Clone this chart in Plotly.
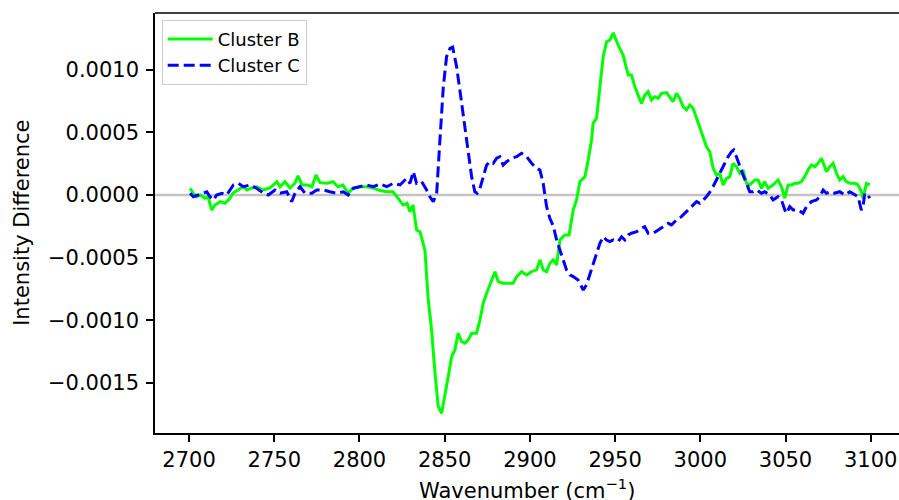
import plotly.graph_objects as go

# Difference spectra (cluster minus reference) in the C-H stretching region
wavenumber_b = [
    2700.6, 2702.5, 2704.5, 2706.5, 2709.4, 2711.1, 2713.3, 2715.2, 2718.2, 2721.1,
    2724.0, 2725.8, 2728.7, 2731.7, 2734.0, 2736.9, 2739.9, 2743.4, 2747.5, 2751.6,
    2753.4, 2756.3, 2759.2, 2762.2, 2763.9, 2766.3, 2769.2, 2772.1, 2774.5, 2776.8,
    2780.9, 2784.5, 2787.4, 2790.3, 2793.3, 2796.2, 2800.3, 2804.4, 2807.9, 2812.0,
    2816.1, 2819.6, 2822.0, 2825.5, 2827.9, 2829.6, 2831.4, 2833.5, 2835.5, 2838.4,
    2840.2, 2842.3, 2844.3, 2846.2, 2848.2, 2850.1, 2852.1, 2854.1, 2856.0, 2857.9,
    2859.9, 2861.9, 2863.8, 2865.8, 2868.7, 2870.7, 2872.6, 2874.6, 2876.5, 2879.5,
    2881.4, 2884.3, 2887.3, 2890.2, 2892.2, 2895.1, 2898.1, 2901.0, 2903.9, 2905.9,
    2907.8, 2909.8, 2911.7, 2913.7, 2915.7, 2917.6, 2920.5, 2923.0, 2925.4, 2927.4,
    2929.3, 2932.3, 2934.2, 2936.2, 2937.1, 2939.1, 2941.1, 2943.0, 2945.0, 2946.9,
    2948.9, 2951.8, 2954.7, 2956.7, 2957.7, 2959.6, 2961.6, 2963.5, 2965.5, 2967.4,
    2969.4, 2971.4, 2973.3, 2975.3, 2977.2, 2980.2, 2982.1, 2984.0, 2986.0, 2988.0,
    2989.9, 2991.9, 2993.8, 2995.8, 2997.8, 2999.7, 3001.6, 3003.6, 3005.6, 3007.5,
    3009.5, 3011.4, 3013.4, 3015.4, 3017.3, 3019.2, 3021.2, 3023.2, 3025.1, 3027.1,
    3029.0, 3032.0, 3033.9, 3035.9, 3037.8, 3039.8, 3042.7, 3045.6, 3047.6, 3049.6,
    3051.5, 3053.5, 3055.4, 3057.4, 3059.3, 3061.3, 3063.2, 3065.2, 3067.2, 3069.1,
    3071.1, 3073.0, 3074.0, 3076.0, 3077.9, 3079.9, 3081.8, 3083.8, 3085.7, 3087.7,
    3090.6, 3092.6, 3094.5, 3095.5, 3097.5, 3099.4,
]
intensity_b = [
    0.000053, 0.000014, -0.000014, 0.000000, -0.000026, -0.000014, -0.000120, -0.000080, -0.000053, -0.000066,
    -0.000026, 0.000016, 0.000040, 0.000066, 0.000040, 0.000056, 0.000066, 0.000040, 0.000056, 0.000106,
    0.000066, 0.000106, 0.000056, 0.000096, 0.000152, 0.000080, 0.000080, 0.000066, 0.000160, 0.000098,
    0.000093, 0.000106, 0.000066, 0.000080, 0.000014, 0.000056, 0.000066, 0.000066, 0.000056, 0.000035,
    0.000026, 0.000026, -0.000014, -0.000080, -0.000066, -0.000133, -0.000080, -0.000279, -0.000293, -0.000439,
    -0.000811, -0.001077, -0.001419, -0.001688, -0.001741, -0.001608, -0.001449, -0.001289, -0.001236, -0.001103,
    -0.001170, -0.001183, -0.001156, -0.001103, -0.001103, -0.000997, -0.000864, -0.000784, -0.000718, -0.000612,
    -0.000691, -0.000704, -0.000704, -0.000704, -0.000651, -0.000612, -0.000638, -0.000612, -0.000598, -0.000518,
    -0.000598, -0.000612, -0.000545, -0.000518, -0.000558, -0.000359, -0.000319, -0.000319, -0.000120, -0.000040,
    0.000106, 0.000146, 0.000279, 0.000439, 0.000572, 0.000612, 0.000864, 0.001103, 0.001223, 0.001236,
    0.001294, 0.001196, 0.001116, 0.001023, 0.000957, 0.000957, 0.000864, 0.000797, 0.000731, 0.000797,
    0.000824, 0.000758, 0.000784, 0.000771, 0.000811, 0.000816, 0.000784, 0.000744, 0.000811, 0.000771,
    0.000704, 0.000678, 0.000718, 0.000691, 0.000612, 0.000545, 0.000465, 0.000385, 0.000345, 0.000213,
    0.000159, 0.000173, 0.000080, 0.000133, 0.000146, 0.000253, 0.000226, 0.000173, 0.000199, 0.000093,
    0.000080, 0.000120, 0.000120, 0.000053, 0.000106, 0.000053, 0.000080, 0.000120, 0.000066, -0.000026,
    0.000080, 0.000080, 0.000093, 0.000093, 0.000106, 0.000146, 0.000199, 0.000239, 0.000226, 0.000253,
    0.000293, 0.000226, 0.000186, 0.000226, 0.000253, 0.000173, 0.000120, 0.000146, 0.000106, 0.000093,
    0.000093, 0.000080, 0.000026, -0.000026, 0.000093, 0.000080,
]

wavenumber_c = [
    2700.6, 2702.5, 2705.3, 2708.2, 2710.4, 2712.3, 2714.3, 2716.2, 2719.2, 2722.1,
    2726.0, 2728.9, 2731.8, 2735.8, 2739.7, 2743.6, 2746.5, 2750.4, 2753.4, 2757.3,
    2760.2, 2762.2, 2765.1, 2768.0, 2772.0, 2774.9, 2778.8, 2782.7, 2786.6, 2790.5,
    2793.4, 2796.4, 2800.3, 2804.2, 2808.1, 2812.0, 2816.0, 2819.8, 2823.8, 2827.7,
    2829.6, 2831.6, 2833.5, 2836.5, 2839.4, 2841.3, 2843.3, 2845.3, 2847.2, 2849.2,
    2851.1, 2853.1, 2854.7, 2857.0, 2858.9, 2861.9, 2863.8, 2865.8, 2867.7, 2869.1,
    2870.7, 2872.6, 2874.6, 2876.5, 2878.5, 2880.5, 2882.4, 2884.3, 2886.3, 2889.3,
    2892.2, 2895.1, 2898.1, 2901.0, 2903.9, 2905.9, 2907.8, 2909.8, 2911.7, 2913.7,
    2915.7, 2917.6, 2919.6, 2921.5, 2923.5, 2925.4, 2928.3, 2931.3, 2933.2, 2935.2,
    2937.1, 2939.1, 2941.1, 2943.0, 2945.0, 2946.9, 2948.9, 2951.8, 2953.8, 2955.7,
    2957.7, 2959.6, 2962.6, 2965.5, 2967.4, 2969.4, 2972.3, 2975.3, 2978.2, 2981.1,
    2983.1, 2986.0, 2988.9, 2991.9, 2994.8, 2997.8, 2999.7, 3001.6, 3003.6, 3006.5,
    3009.5, 3012.4, 3014.4, 3016.3, 3018.3, 3019.6, 3021.2, 3023.2, 3025.1, 3027.1,
    3029.0, 3031.0, 3033.0, 3035.9, 3037.8, 3040.8, 3042.7, 3045.6, 3047.6, 3049.6,
    3050.6, 3052.5, 3054.5, 3057.4, 3060.3, 3062.3, 3065.2, 3068.2, 3070.1, 3072.1,
    3074.0, 3076.0, 3078.9, 3081.8, 3084.8, 3087.7, 3090.6, 3092.6, 3094.5, 3095.5,
    3096.5, 3098.4, 3099.4,
]
intensity_c = [
    0.000014, -0.000014, 0.000000, 0.000014, 0.000026, -0.000014, -0.000040, 0.000000, 0.000014, 0.000000,
    0.000080, 0.000093, 0.000066, 0.000080, 0.000053, 0.000014, 0.000000, 0.000040, 0.000014, 0.000026,
    -0.000053, 0.000014, 0.000066, 0.000014, 0.000014, 0.000040, 0.000040, 0.000026, 0.000014, 0.000026,
    0.000000, 0.000053, 0.000066, 0.000080, 0.000066, 0.000088, 0.000066, 0.000093, 0.000080, 0.000133,
    0.000093, 0.000186, 0.000093, 0.000106, 0.000040, -0.000014, -0.000053, 0.000014, 0.000439, 0.000864,
    0.001103, 0.001170, 0.001180, 0.001023, 0.000837, 0.000545, 0.000333, 0.000146, 0.000026, 0.000014,
    0.000053, 0.000146, 0.000239, 0.000266, 0.000253, 0.000293, 0.000305, 0.000239, 0.000266, 0.000293,
    0.000305, 0.000333, 0.000305, 0.000253, 0.000213, 0.000199, 0.000093, -0.000093, -0.000186, -0.000247,
    -0.000359, -0.000439, -0.000518, -0.000598, -0.000638, -0.000651, -0.000678, -0.000758, -0.000718, -0.000638,
    -0.000545, -0.000465, -0.000385, -0.000333, -0.000359, -0.000372, -0.000359, -0.000372, -0.000333, -0.000359,
    -0.000319, -0.000305, -0.000293, -0.000266, -0.000253, -0.000305, -0.000305, -0.000279, -0.000253, -0.000226,
    -0.000239, -0.000199, -0.000173, -0.000133, -0.000093, -0.000053, -0.000066, -0.000040, -0.000014, 0.000040,
    0.000120, 0.000199, 0.000253, 0.000305, 0.000345, 0.000359, 0.000305, 0.000226, 0.000159, 0.000093,
    0.000026, 0.000026, 0.000040, 0.000014, 0.000026, 0.000000, -0.000040, -0.000014, -0.000040, -0.000120,
    -0.000146, -0.000093, -0.000120, -0.000120, -0.000146, -0.000093, -0.000053, -0.000040, -0.000014, 0.000040,
    0.000014, 0.000026, 0.000014, 0.000026, 0.000000, 0.000026, 0.000000, -0.000014, -0.000120, -0.000093,
    0.000014, 0.000000, -0.000026,
]

x_ticks = [2700, 2750, 2800, 2850, 2900, 2950, 3000, 3050, 3100]
y_ticks = [-0.0015, -0.0010, -0.0005, 0.0, 0.0005, 0.0010]

FONT = "DejaVu Sans"

fig = go.Figure()

fig.add_trace(go.Scatter(
    x=wavenumber_b, y=intensity_b, mode="lines", name="Cluster B",
    line=dict(color="#00ff00", width=3),
))
fig.add_trace(go.Scatter(
    x=wavenumber_c, y=intensity_c, mode="lines", name="Cluster C",
    line=dict(color="#0000ff", width=3, dash="11px,5px"),
))

# zero reference line across the full axes width
fig.add_shape(
    type="line", xref="paper", yref="y", x0=0, x1=1, y0=0, y1=0,
    line=dict(color="#c4c4c4", width=2.6), layer="below",
)

axis_common = dict(
    showgrid=False, zeroline=False, showline=True, linecolor="black",
    linewidth=1.6, ticks="outside", ticklen=7, tickwidth=1.6, tickcolor="black",
    tickfont=dict(family=FONT, size=21, color="black"),
)

fig.update_layout(
    width=899, height=500,
    margin=dict(l=155, r=0, t=13, b=67),
    paper_bgcolor="white", plot_bgcolor="white",
    font=dict(family=FONT, color="black"),
    showlegend=True,
    legend=dict(
        x=0.009, y=0.984, xanchor="left", yanchor="top",
        bgcolor="rgba(255,255,255,0.8)", bordercolor="#cccccc", borderwidth=1,
        font=dict(family=FONT, size=18, color="black"),
        itemwidth=45, tracegroupgap=4,
    ),
    xaxis=dict(
        range=[2680, 3116.6], tickvals=x_ticks, ticktext=[str(v) for v in x_ticks],
        mirror=False, **axis_common,
    ),
    yaxis=dict(
        range=[-0.001899, 0.001452], tickvals=y_ticks, tickformat=".4f",
        ticklabelstandoff=3, **axis_common,
    ),
    annotations=[
        dict(
            text="Wavenumber (cm<sup>\u22121</sup>)", xref="paper", yref="paper",
            x=0.5, y=-0.133, xanchor="center", yanchor="middle", showarrow=False,
            font=dict(family=FONT, size=21, color="black"),
        ),
        dict(
            text="Intensity Difference", xref="paper", yref="paper",
            x=-0.179, y=0.5, xanchor="center", yanchor="middle", textangle=-90,
            showarrow=False, font=dict(family=FONT, size=21, color="black"),
        ),
    ],
)

# top spine of the axes frame
fig.add_shape(
    type="line", xref="paper", yref="paper", x0=0, x1=1, y0=1, y1=1,
    line=dict(color="black", width=1.6),
)

fig.write_html("out.html")
